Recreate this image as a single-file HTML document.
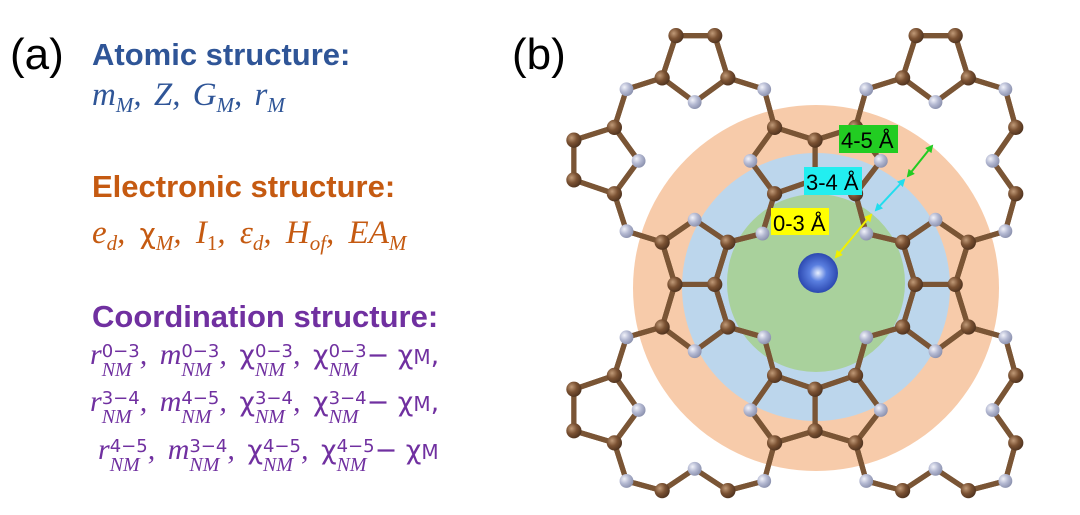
<!DOCTYPE html>
<html><head><meta charset="utf-8"><style>
body{margin:0;width:1080px;height:515px;background:#fff;position:relative;overflow:hidden;font-family:"Liberation Sans",sans-serif}
.t{position:absolute;white-space:nowrap}
.h{font-weight:bold;font-size:31px;line-height:1}
.m{font-family:"Liberation Serif",serif;font-style:italic;line-height:40px}
.r{font-size:30px;word-spacing:5px;height:40px}
.s{display:inline-block;vertical-align:-12px;line-height:19px;font-size:20px;text-align:left;word-spacing:0}
.s span{display:block}
.up{font-style:normal;font-family:"DejaVu Sans",sans-serif;font-size:18px}
.sub{font-size:21px;vertical-align:-7px;word-spacing:0}
.chi{font-style:normal;font-family:"DejaVu Sans",sans-serif;font-size:27px;word-spacing:0}
</style></head><body>
<div class="t" style="left:10px;top:30px;font-size:44px">(a)</div>
<div class="t" style="left:512px;top:30px;font-size:44px">(b)</div>
<div class="t h" style="left:92px;top:39px;color:#2f5597">Atomic structure:</div>
<div class="t m" style="left:92px;top:75px;font-size:33px;word-spacing:4px;color:#2f5597">m<span class="sub">M</span>, Z, G<span class="sub">M</span>, r<span class="sub">M</span></div>
<div class="t h" style="left:92px;top:171px;color:#c55a11">Electronic structure:</div>
<div class="t m" style="left:92px;top:213px;font-size:33px;word-spacing:6px;color:#c55a11">e<span class="sub">d</span>, <span class="chi" style="font-size:28px">χ</span><span class="sub">M</span>, I<span class="sub" style="font-style:normal">1</span>, ε<span class="sub">d</span>, H<span class="sub">of</span>, EA<span class="sub">M</span></div>
<div class="t h" style="left:92px;top:301px;color:#7030a0">Coordination structure:</div>
<div class="t m r" style="left:90px;top:335px;color:#7030a0">r<span class="s"><span class="up">0−3</span><span>NM</span></span>, m<span class="s"><span class="up">0−3</span><span>NM</span></span>, <span class="chi">χ</span><span class="s"><span class="up">0−3</span><span>NM</span></span>, <span class="chi">χ</span><span class="s"><span class="up">0−3</span><span>NM</span></span><span class="chi">− χ<span style="font-size:20px">M</span>,</span></div>
<div class="t m r" style="left:90px;top:382px;color:#7030a0">r<span class="s"><span class="up">3−4</span><span>NM</span></span>, m<span class="s"><span class="up">4−5</span><span>NM</span></span>, <span class="chi">χ</span><span class="s"><span class="up">3−4</span><span>NM</span></span>, <span class="chi">χ</span><span class="s"><span class="up">3−4</span><span>NM</span></span><span class="chi">− χ<span style="font-size:20px">M</span>,</span></div>
<div class="t m r" style="left:98px;top:430px;color:#7030a0">r<span class="s"><span class="up">4−5</span><span>NM</span></span>, m<span class="s"><span class="up">3−4</span><span>NM</span></span>, <span class="chi">χ</span><span class="s"><span class="up">4−5</span><span>NM</span></span>, <span class="chi">χ</span><span class="s"><span class="up">4−5</span><span>NM</span></span><span class="chi">− χ<span style="font-size:20px">M</span></span></div>

<svg width="1080" height="515" style="position:absolute;left:0;top:0">
<defs>
<radialGradient id="gc" cx="0.35" cy="0.35" r="0.7"><stop offset="0" stop-color="#c09a78"/><stop offset="0.5" stop-color="#7b5233"/><stop offset="1" stop-color="#4e321e"/></radialGradient>
<radialGradient id="gn" cx="0.35" cy="0.35" r="0.7"><stop offset="0" stop-color="#f2f3fa"/><stop offset="0.5" stop-color="#b4b9d2"/><stop offset="1" stop-color="#8a90ad"/></radialGradient>
<radialGradient id="gm" cx="0.5" cy="0.5" r="0.6"><stop offset="0" stop-color="#e8f0ff"/><stop offset="0.35" stop-color="#5a7fe0"/><stop offset="1" stop-color="#1c36a0"/></radialGradient>
<marker id="my" markerWidth="8" markerHeight="8" refX="6" refY="4" orient="auto-start-reverse" markerUnits="userSpaceOnUse"><path d="M0,0 L8,4 L0,8 Z" fill="#f0f000"/></marker>
<marker id="mc" markerWidth="8" markerHeight="8" refX="6" refY="4" orient="auto-start-reverse" markerUnits="userSpaceOnUse"><path d="M0,0 L8,4 L0,8 Z" fill="#22ddee"/></marker>
<marker id="mg" markerWidth="8" markerHeight="8" refX="6" refY="4" orient="auto-start-reverse" markerUnits="userSpaceOnUse"><path d="M0,0 L8,4 L0,8 Z" fill="#22cc22"/></marker>
</defs>
<circle cx="816" cy="288" r="183" fill="#f7cbaa"/>
<circle cx="816" cy="287" r="134" fill="#bcd6ec"/>
<circle cx="816" cy="283" r="89" fill="#a9d19c"/>
<g transform="translate(540,0) scale(0.346)">
<g stroke="#7a5535" stroke-width="15" stroke-linecap="round" fill="none" id="bonds">
<path d="M353,225L393,103L505,103L543,225L447,295Z M250,258L353,225 M543,225L648,258L678,368 M250,258L215,368
M1048,225L1087,103L1200,103L1238,225L1143,295Z M943,258L1048,225 M1238,225L1345,258L1375,368 M943,258L912,368
M215,368L98,405L98,520L215,560L285,465Z M215,560L250,668L353,700
M1375,368L1308,465L1375,560L1345,668L1238,700
M678,368L795,405L912,368 M795,405L795,519 M678,368L608,465L678,560L795,519L912,560L985,465L912,368 M678,560L643,675L543,700 M912,560L943,675L1048,700
M447,635L353,700L390,822L505,822L543,700Z M390,822L353,945L447,1015L543,945L505,822 M543,945L648,975L678,1085 M353,945L250,975L215,1085
M1143,635L1048,700L1085,822L1200,822L1238,700Z M1085,822L1048,945L1143,1015L1238,945L1200,822 M1048,945L943,975L912,1085 M1238,945L1345,975
M678,1085L795,1125L912,1085 M795,1125L795,1245 M678,1085L608,1185L678,1280L795,1245L912,1280L985,1185L912,1085
M215,1085L98,1125L98,1245L215,1280L285,1185Z M215,1280L250,1390L353,1418L447,1355L543,1418L648,1390L678,1280
M912,1280L943,1390L1048,1418L1143,1355L1238,1418L1345,1390L1375,1280L1308,1185L1375,1085L1345,975"/>
</g>
<use href="#bonds" stroke="#d9c4ae" stroke-width="5"/>
<g fill="url(#gc)">
<circle cx="393" cy="103" r="22"/><circle cx="505" cy="103" r="22"/><circle cx="353" cy="225" r="22"/><circle cx="543" cy="225" r="22"/>
<circle cx="1087" cy="103" r="22"/><circle cx="1200" cy="103" r="22"/><circle cx="1048" cy="225" r="22"/><circle cx="1238" cy="225" r="22"/>
<circle cx="215" cy="368" r="22"/><circle cx="98" cy="405" r="22"/><circle cx="98" cy="520" r="22"/><circle cx="215" cy="560" r="22"/>
<circle cx="1375" cy="368" r="22"/><circle cx="1375" cy="560" r="22"/>
<circle cx="678" cy="368" r="22"/><circle cx="795" cy="405" r="22"/><circle cx="912" cy="368" r="22"/><circle cx="678" cy="560" r="22"/><circle cx="912" cy="560" r="22"/><circle cx="795" cy="519" r="22"/>
<circle cx="353" cy="700" r="22"/><circle cx="543" cy="700" r="22"/><circle cx="390" cy="822" r="22"/><circle cx="505" cy="822" r="22"/><circle cx="353" cy="945" r="22"/><circle cx="543" cy="945" r="22"/>
<circle cx="1048" cy="700" r="22"/><circle cx="1238" cy="700" r="22"/><circle cx="1085" cy="822" r="22"/><circle cx="1200" cy="822" r="22"/><circle cx="1048" cy="945" r="22"/><circle cx="1238" cy="945" r="22"/>
<circle cx="678" cy="1085" r="22"/><circle cx="795" cy="1125" r="22"/><circle cx="912" cy="1085" r="22"/><circle cx="795" cy="1245" r="22"/><circle cx="678" cy="1280" r="22"/><circle cx="912" cy="1280" r="22"/>
<circle cx="215" cy="1085" r="22"/><circle cx="98" cy="1125" r="22"/><circle cx="98" cy="1245" r="22"/><circle cx="215" cy="1280" r="22"/>
<circle cx="353" cy="1418" r="22"/><circle cx="543" cy="1418" r="22"/><circle cx="1048" cy="1418" r="22"/><circle cx="1238" cy="1418" r="22"/><circle cx="1375" cy="1280" r="22"/><circle cx="1375" cy="1085" r="22"/>
</g>
<g fill="url(#gn)">
<circle cx="447" cy="295" r="20"/><circle cx="250" cy="258" r="20"/><circle cx="648" cy="258" r="20"/>
<circle cx="1143" cy="295" r="20"/><circle cx="943" cy="258" r="20"/><circle cx="1345" cy="258" r="20"/>
<circle cx="285" cy="465" r="20"/><circle cx="250" cy="668" r="20"/><circle cx="1308" cy="465" r="20"/><circle cx="1345" cy="668" r="20"/>
<circle cx="608" cy="465" r="20"/><circle cx="985" cy="465" r="20"/><circle cx="643" cy="675" r="20"/><circle cx="943" cy="675" r="20"/>
<circle cx="447" cy="635" r="20"/><circle cx="447" cy="1015" r="20"/><circle cx="1143" cy="635" r="20"/><circle cx="1143" cy="1015" r="20"/>
<circle cx="648" cy="975" r="20"/><circle cx="943" cy="975" r="20"/><circle cx="608" cy="1185" r="20"/><circle cx="985" cy="1185" r="20"/>
<circle cx="250" cy="975" r="20"/><circle cx="285" cy="1185" r="20"/><circle cx="250" cy="1390" r="20"/><circle cx="447" cy="1355" r="20"/><circle cx="648" cy="1390" r="20"/>
<circle cx="943" cy="1390" r="20"/><circle cx="1143" cy="1355" r="20"/><circle cx="1345" cy="1390" r="20"/><circle cx="1308" cy="1185" r="20"/><circle cx="1345" cy="975" r="20"/>
</g>
</g>
<circle cx="818" cy="273" r="20" fill="url(#gm)"/>
<rect x="839" y="125" width="59" height="28" fill="#22cc22"/>
<rect x="804" y="167" width="58" height="28" fill="#22eef0"/>
<rect x="771" y="208" width="58" height="27" fill="#ffff00"/>
<g font-family="Liberation Sans, sans-serif" font-size="22" fill="#000">
<text x="841" y="148">4-5 Å</text><text x="806" y="190">3-4 Å</text><text x="773" y="231">0-3 Å</text>
</g>
<line x1="871" y1="215" x2="836" y2="257" stroke="#f0f000" stroke-width="2" marker-start="url(#my)" marker-end="url(#my)"/>
<line x1="876" y1="210" x2="904" y2="180" stroke="#22ddee" stroke-width="2" marker-start="url(#mc)" marker-end="url(#mc)"/>
<line x1="908" y1="176" x2="932" y2="146" stroke="#22cc22" stroke-width="2" marker-start="url(#mg)" marker-end="url(#mg)"/>
</svg>
</body></html>
